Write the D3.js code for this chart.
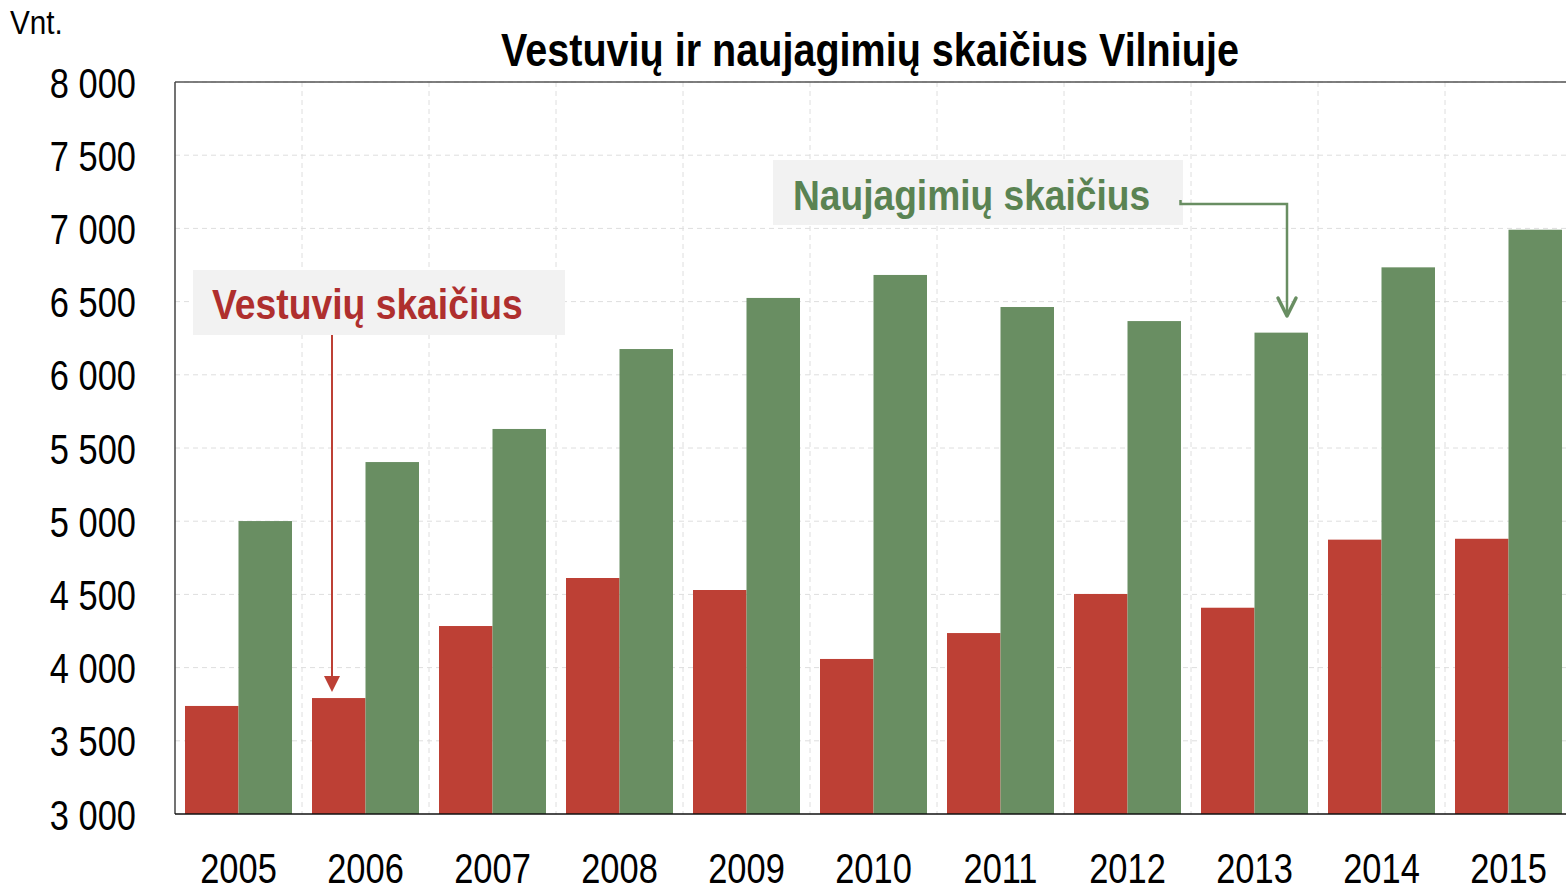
<!DOCTYPE html>
<html><head><meta charset="utf-8">
<script src="https://cdn.jsdelivr.net/npm/d3@7"></script>
<style>
html,body{margin:0;padding:0;background:#fff;}
svg{display:block;}
text{font-family:"Liberation Sans","Arial",sans-serif;}
</style></head>
<body>
<svg id="chart" width="1566" height="888"></svg>
<script>
const years = ["2005","2006","2007","2008","2009","2010","2011","2012","2013","2014","2015"];
const weddings = [3738,3792,4284,4612,4530,4059,4236,4503,4409,4874,4880];
const births = [5001,5404,5630,6176,6525,6682,6463,6367,6288,6734,6991];
const yTicks = [3000,3500,4000,4500,5000,5500,6000,6500,7000,7500,8000];
const title = "Vestuvių ir naujagimių skaičius Vilniuje";
const unitLabel = "Vnt.";
const weddingsLabel = "Vestuvių skaičius";
const birthsLabel = "Naujagimių skaičius";

const RED = "#BD4035", GREEN = "#698E62";
const RED_TXT = "#AF2F2E", GREEN_TXT = "#5A8352";
const svg = d3.select("#chart");
const L = 175, R = 1572, T = 82, B = 814;

const x = d3.scaleBand().domain(years).range([L, R]).paddingInner(0).paddingOuter(0);
const y = d3.scaleLinear().domain([3000, 8000]).range([B, T]);
const fmt = v => d3.format(",")(v).replace(",", " ");

// grid
const g = svg.append("g");
g.selectAll(".hg").data(yTicks.slice(1)).join("line")
  .attr("x1", L).attr("x2", R).attr("y1", d => y(d)).attr("y2", d => y(d))
  .attr("stroke", "#dedede").attr("stroke-width", 1).attr("stroke-dasharray", "5,4");
g.selectAll(".vg").data(years.slice(1)).join("line")
  .attr("x1", d => x(d)).attr("x2", d => x(d)).attr("y1", T).attr("y2", B)
  .attr("stroke", "#dedede").attr("stroke-width", 1).attr("stroke-dasharray", "5,4");

// bars
const pad = 10;
const bw = (x.bandwidth() - 2 * pad) / 2;
svg.append("g").selectAll("rect").data(years).join("rect")
  .attr("x", d => x(d) + pad).attr("width", bw)
  .attr("y", (d, i) => y(weddings[i])).attr("height", (d, i) => B - y(weddings[i]))
  .attr("fill", RED);
svg.append("g").selectAll("rect").data(years).join("rect")
  .attr("x", d => x(d) + pad + bw).attr("width", bw)
  .attr("y", (d, i) => y(births[i])).attr("height", (d, i) => B - y(births[i]))
  .attr("fill", GREEN);

// frame
svg.append("line").attr("x1", L).attr("x2", R).attr("y1", T).attr("y2", T).attr("stroke", "#555").attr("stroke-width", 1.5);
svg.append("line").attr("x1", L).attr("x2", L).attr("y1", T).attr("y2", B).attr("stroke", "#444").attr("stroke-width", 1.5);
svg.append("line").attr("x1", L).attr("x2", R).attr("y1", B).attr("y2", B).attr("stroke", "#111").attr("stroke-width", 1.5);

// helper: condensed text via horizontal scale
function narrow(sel, k) {
  sel.each(function () {
    const t = d3.select(this);
    const tx = +t.attr("x") || 0, ty = +t.attr("y") || 0;
    const prev = t.attr("transform") || "";
    t.attr("x", 0).attr("y", 0)
     .attr("transform", `${prev} translate(${tx},${ty}) scale(${k},1)`);
  });
}

// y axis labels
const yAxis = d3.axisLeft(y).tickValues(yTicks).tickFormat(fmt).tickSize(0).tickPadding(0);
const ya = svg.append("g").attr("transform", `translate(136,0)`).call(yAxis);
ya.select(".domain").remove();
ya.selectAll("text").attr("font-size", 42).attr("fill", "#000").attr("dy", "0.36em")
  .style("font-family", '"Liberation Sans",Arial,sans-serif').call(narrow, 0.82);

// x axis labels
const xAxis = d3.axisBottom(x).tickSize(0).tickPadding(0);
const xa = svg.append("g").attr("transform", `translate(0,${B})`).call(xAxis);
xa.select(".domain").remove();
xa.selectAll("text").attr("font-size", 42).attr("fill", "#000").attr("y", 69).attr("dy", 0)
  .style("font-family", '"Liberation Sans",Arial,sans-serif').call(narrow, 0.82);

// title & unit
svg.append("text").attr("x", 870).attr("y", 66).attr("text-anchor", "middle")
  .attr("font-size", 46).attr("font-weight", "bold").text(title).call(narrow, 0.86);
svg.append("text").attr("x", 10).attr("y", 34).attr("font-size", 33).text(unitLabel).call(narrow, 0.9);

// annotation: weddings
svg.append("rect").attr("x", 193).attr("y", 270).attr("width", 372).attr("height", 65).attr("fill", "#f2f2f2");
svg.append("text").attr("x", 212).attr("y", 319).attr("font-size", 43).attr("font-weight", "bold")
  .attr("fill", RED_TXT).text(weddingsLabel).call(narrow, 0.867);
svg.append("line").attr("x1", 332).attr("x2", 332).attr("y1", 335).attr("y2", 680).attr("stroke", RED).attr("stroke-width", 2);
svg.append("path").attr("d", "M324,676 L340,676 L332,692 Z").attr("fill", RED);

// annotation: births
svg.append("rect").attr("x", 773).attr("y", 160).attr("width", 410).attr("height", 65).attr("fill", "#f2f2f2");
svg.append("text").attr("x", 793).attr("y", 210).attr("font-size", 43).attr("font-weight", "bold")
  .attr("fill", GREEN_TXT).text(birthsLabel).call(narrow, 0.864);
svg.append("path").attr("d", "M1180.5,200 L1180.5,204 L1287,204 L1287,316").attr("fill", "none").attr("stroke", GREEN).attr("stroke-width", 2.5);
svg.append("path").attr("d", "M1278,298 L1287,316 L1296,298").attr("fill", "none").attr("stroke", GREEN).attr("stroke-width", 3.5).attr("stroke-linecap", "round").attr("stroke-linejoin", "round");
</script>
</body></html>
